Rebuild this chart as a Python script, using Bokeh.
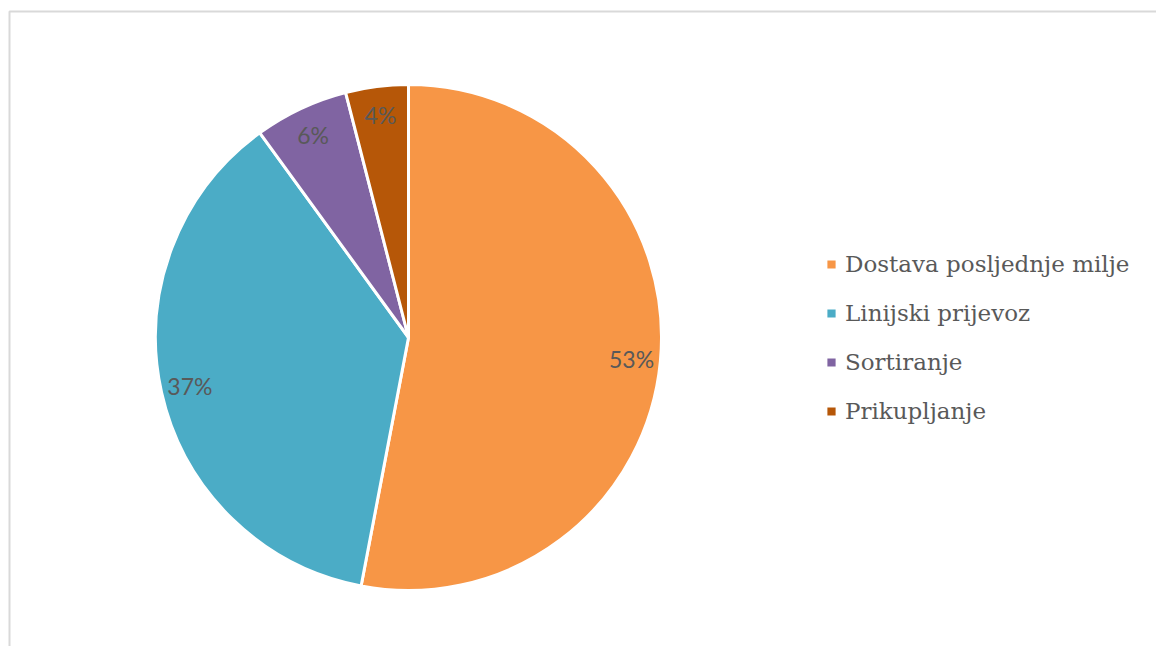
import math
from bokeh.plotting import figure
from bokeh.models import Range1d, Legend, LegendItem, ColumnDataSource
from bokeh.core.properties import value
from bokeh.embed import file_html
from bokeh.resources import INLINE

categories = ["Dostava posljednje milje", "Linijski prijevoz", "Sortiranje", "Prikupljanje"]
shares = [53, 37, 6, 4]
colors = ["#F79646", "#4BACC6", "#8064A2", "#B65708"]

W, H = 1156, 646
CX, CY, R = 408, 309, 253
LABEL_R = 224

total = float(sum(shares))
starts, ends, lx, ly, labels = [], [], [], [], []
cum = 0.0
for s in shares:
    a0 = math.pi / 2 - 2 * math.pi * cum / total
    cum += s
    a1 = math.pi / 2 - 2 * math.pi * cum / total
    starts.append(a1)
    ends.append(a0)
    mid = (a0 + a1) / 2
    lx.append(CX + LABEL_R * math.cos(mid))
    ly.append(CY + LABEL_R * math.sin(mid))
    labels.append(f"{s}%")

src = ColumnDataSource(dict(start=starts, end=ends, color=colors, name=categories,
                            lx=lx, ly=ly, label=labels))

p = figure(width=W, height=H, output_backend="svg", toolbar_location=None,
           x_range=Range1d(0, W), y_range=Range1d(0, H), min_border=0)
p.axis.visible = False
p.grid.visible = False
p.outline_line_color = None
p.background_fill_color = "white"

# chart-area border (only left and top edges are inside the window)
p.line(x=[9, 9, W], y=[0, 635, 635], line_color="#d9d9d9", line_width=2)

r = p.wedge(x=CX, y=CY, radius=R, radius_units="screen", start_angle="start", end_angle="end",
            fill_color="color", line_color="white", line_width=3, source=src)

p.text(x="lx", y="ly", text="label", source=src, text_align="center", text_baseline="middle",
       text_font=value("Lato"), text_font_size="23px", text_color="#595959")

items = [LegendItem(label=categories[i], renderers=[r], index=i) for i in range(len(categories))]
legend = Legend(items=items, location=(824, 222), orientation="vertical",
                glyph_width=14, glyph_height=14, label_height=26, spacing=23,
                label_standoff=7, padding=0, margin=0, border_line_color=None,
                background_fill_alpha=0, label_text_font="DejaVu Serif",
                label_text_font_size="23px", label_text_color="#595959")
p.add_layout(legend)

open("out.html", "w").write(file_html(p, INLINE))
